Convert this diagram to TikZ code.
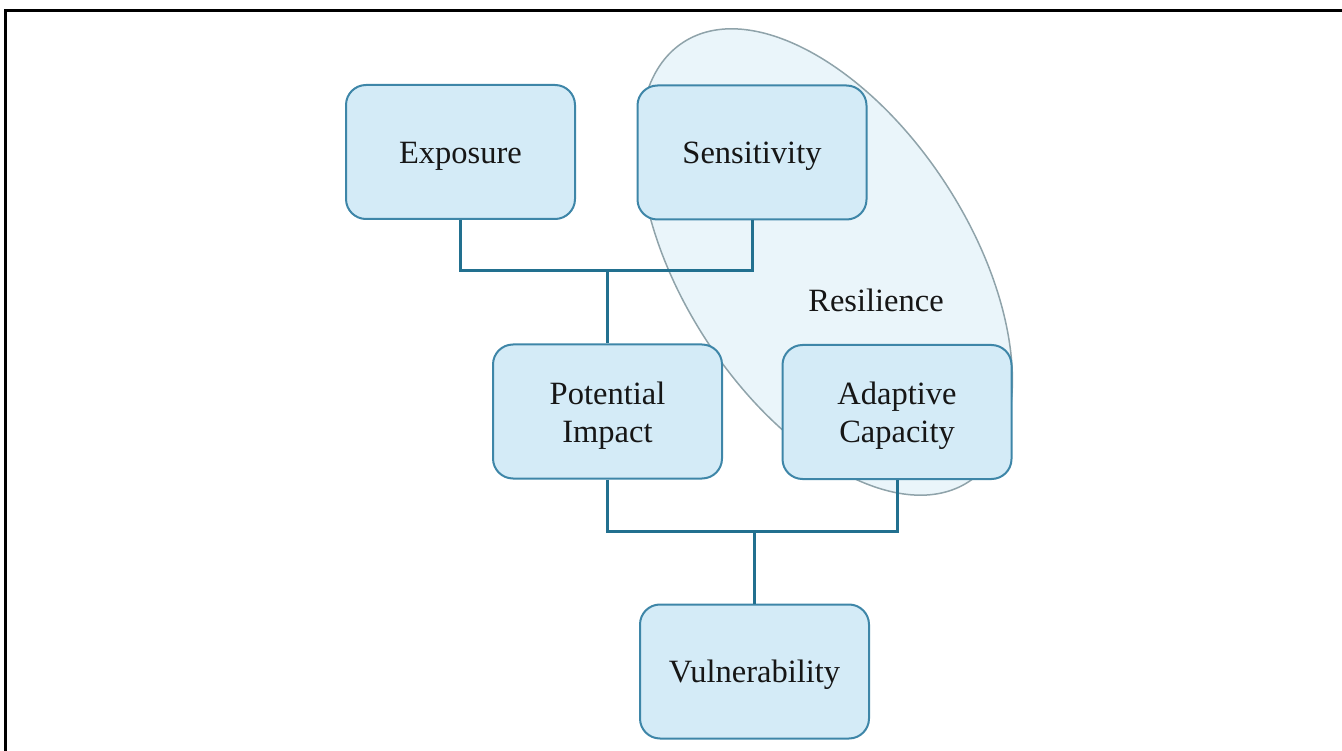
\documentclass[tikz,border=0pt]{standalone}
\usepackage{fontspec}
\setmainfont{Liberation Serif}
\definecolor{boxfill}{HTML}{D4EBF7}
\definecolor{boxline}{HTML}{3E86A8}
\definecolor{wire}{HTML}{22708F}
\definecolor{ringfill}{HTML}{EAF5FA}
\definecolor{ringline}{HTML}{8FA3AA}
\definecolor{ink}{HTML}{161616}
% extra headroom on the first line lowers the text a little inside its box
\newcommand\headroom{\rule{0pt}{30pt}}
\begin{document}
\begin{tikzpicture}[x=1pt,y=1pt,
  factor/.style={draw=boxline, line width=2pt, fill=boxfill, rounded corners=20pt,
    minimum width=229pt, minimum height=134pt, inner sep=0pt, align=center,
    font=\fontsize{32.5}{38}\selectfont, text=ink},
  link/.style={draw=wire, line width=3pt},
  label/.style={font=\fontsize{32.5}{38}\selectfont, text=ink}]
\useasboundingbox (0,0) rectangle (1342,-751);
% page frame (left and top rules)
\draw[line width=3pt] (5.2,-751) -- (5.2,-10.5) -- (1342,-10.5);
% resilience region
\draw[ringline, fill=ringfill, line width=1.5pt, shift={(826,-262)}, rotate=-57]
  (0,0) ellipse [x radius=262, y radius=143];
\node[label] (res) at (876,-300) {Resilience};
% factors
\node[factor] (exp) at (460.5,-152) {\headroom Exposure};
\node[factor] (sen) at (752,-152.5) {\headroom Sensitivity};
\node[factor] (pot) at (607.5,-411.5) {\headroom Potential\\Impact};
\node[factor] (ada) at (897,-412) {\headroom Adaptive\\Capacity};
\node[factor] (vul) at (754.5,-671.5) {\headroom Vulnerability};
% connectors
\coordinate (j1) at (pot.north |- 0,-270.5);
\coordinate (j2) at (vul.north |- 0,-531);
\draw[link] (exp.south) |- (j1) -| (sen.south);
\draw[link] (j1) -- (pot.north);
\draw[link] (pot.south) |- (j2) -| (ada.south);
\draw[link] (j2) -- (vul.north);
\end{tikzpicture}
\end{document}
